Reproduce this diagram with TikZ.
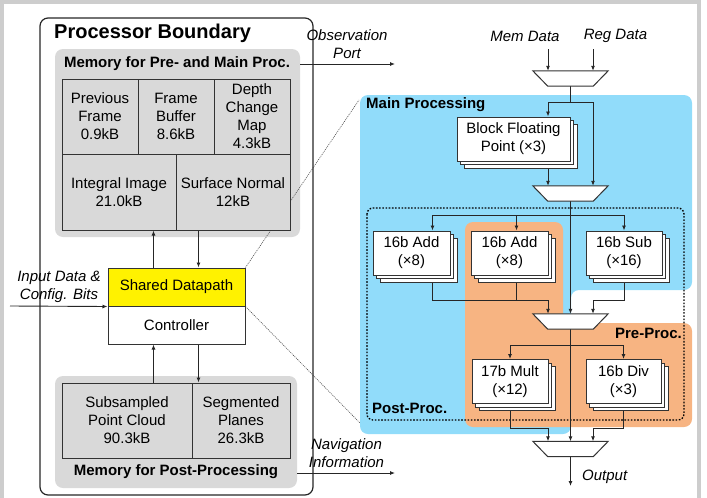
\documentclass[tikz,border=0pt]{standalone}
\usepackage{fontspec}
\setmainfont{Liberation Sans}
\usetikzlibrary{arrows.meta,shadows}
\pgfdeclarelayer{bg}
\pgfdeclarelayer{wires}
\pgfsetlayers{bg,wires,main}
\definecolor{mainblue}{RGB}{145,220,250}
\definecolor{preorange}{RGB}{247,180,130}
\definecolor{memgray}{RGB}{217,217,217}
\definecolor{framegray}{RGB}{205,205,205}

\begin{document}
\begin{tikzpicture}[x=1pt,y=1pt,yscale=-1,
  txt/.style={font=\fontsize{15}{18}\selectfont, inner sep=0pt, align=center},
  ttl/.style={font=\fontsize{15}{18}\selectfont\bfseries, inner sep=0pt},
  lbl/.style={font=\fontsize{15}{18}\selectfont\itshape, inner sep=0pt, align=center},
  cell/.style={txt, draw=black!80, line width=1pt, fill=memgray},
  unit/.style={txt, draw=black!80, line width=1pt, fill=white, minimum height=44pt,
    general shadow={shadow xshift=7pt, shadow yshift=-7pt, draw=black!80, fill=white},
    general shadow={shadow xshift=3.5pt, shadow yshift=-3.5pt, draw=black!80, fill=white}},
  mux/.style={minimum width=75pt, minimum height=15pt, inner sep=0pt},
  muxline/.style={draw=black!80, line width=1pt, fill=white},
  wire/.style={line width=0.9pt, black!85},
  arr/.style={wire, -{Latex[length=5pt,width=4pt]}},
  magnify/.style={line width=0.6pt, black!70, dash pattern=on 1pt off 1pt},
  membox/.style={fill=memgray, rounded corners=8pt, inner sep=0pt}
]
\useasboundingbox (0,0) rectangle (707,498);
%frame
\draw[framegray, line width=3.5pt] (1.75,1.75) rectangle (699,520);

%Processor boundary
\node[draw=black!85, line width=1.2pt, rounded corners=8pt, minimum width=273pt, minimum height=477pt, inner sep=0pt] (proc) at (176.5,256.5) {};
\node[anchor=west, inner sep=0pt, font=\fontsize{20}{24}\selectfont\bfseries] (proct) at (54,33) {Processor Boundary};

%Memory for pre- and main processing
\begin{pgfonlayer}{bg}
\node[membox, minimum width=245pt, minimum height=188pt] (memA) at (177.5,143) {};
\node[membox, minimum width=242pt, minimum height=112pt] (memB) at (176,432) {};
\end{pgfonlayer}
\node[ttl] (memAt) at (177,64) {Memory for Pre- and Main Proc.};
\node[cell, minimum width=76pt, minimum height=75pt] (prev) at (100,116.5) {Previous\\Frame\\0.9kB};
\node[cell, minimum width=76pt, minimum height=75pt] (fbuf) at (176,116.5) {Frame\\Buffer\\8.6kB};
\node[cell, minimum width=76pt, minimum height=75pt] (dcm) at (252,116.5) {Depth\\Change\\Map\\4.3kB};
\node[cell, minimum width=114pt, minimum height=76pt] (integ) at (119,192) {Integral Image\\21.0kB};
\node[cell, minimum width=114pt, minimum height=76pt] (surf) at (233,192) {Surface Normal\\12kB};

%Datapath and controller
\node[txt, draw=black!80, line width=1pt, fill=yellow, minimum width=137pt, minimum height=38pt] (dp) at (176.5,287) {Shared Datapath};
\node[txt, draw=black!80, line width=1pt, fill=white, minimum width=137pt, minimum height=38pt] (ctrl) at (176.5,325) {Controller};

%Memory for post-processing
\node[cell, minimum width=130pt, minimum height=75pt] (subs) at (127,420.5) {Subsampled\\Point Cloud\\90.3kB};
\node[cell, minimum width=98pt, minimum height=75pt] (segp) at (241,420.5) {Segmented\\Planes\\26.3kB};
\node[ttl] (memBt) at (176,472) {Memory for Post-Processing};

%Ports
\node[lbl] (inpt) at (59,287) {Input Data \&\\Config. Bits};
\node[lbl] (obst) at (347,44) {Observation\\Port};
\node[lbl] (navt) at (346.5,453.5) {Navigation\\Information};
\coordinate (inp) at (10,306);
\coordinate (obs) at (395,64);
\coordinate (nav) at (395,473);

%Regions
\begin{pgfonlayer}{bg}
\fill[mainblue, rounded corners=8pt] (360,95) -- (692,95) -- (692,290) -- (571,290) -- (571,434) -- (360,434) -- cycle;
\fill[preorange, rounded corners=8pt] (465,222) -- (563,222) -- (563,323) -- (692,323) -- (692,427) -- (465,427) -- cycle;
\end{pgfonlayer}
\coordinate (mpA) at (359,100);
\coordinate (mpB) at (360,423);
\node[ttl, anchor=west] (maint) at (366,105) {Main Processing};
\node[ttl, anchor=east] (pret) at (682,333) {Pre-Proc.};
\node[ttl, anchor=west] (postt) at (372,408) {Post-Proc.};

%Muxes and units
\node[lbl] (memd) at (525,36) {Mem Data};
\node[lbl] (regd) at (615.5,36) {Reg Data};
\coordinate (memin) at (548,49);
\coordinate (regin) at (593,49);
\node[mux] (mux1) at (570.5,78.5) {};
\node[unit, minimum width=113pt] (bfp) at (513.5,139) {Block Floating\\Point (×3)};
\node[mux] (mux2) at (570.5,193.5) {};
\node[unit, minimum width=77pt] (addA) at (411.5,253) {16b Add\\(×8)};
\node[unit, minimum width=77pt] (addB) at (509.5,253) {16b Add\\(×8)};
\node[unit, minimum width=76pt] (sub) at (624,253) {16b Sub\\(×16)};
\node[mux] (mux3) at (570.5,321.5) {};
\node[unit, minimum width=76pt] (mult) at (510,381.5) {17b Mult\\(×12)};
\node[unit, minimum width=75pt] (div) at (623.5,381.5) {16b Div\\(×3)};
\node[mux] (mux4) at (570.5,449) {};
\foreach \m in {mux1,mux2,mux3,mux4}
  \draw[muxline] (\m.north west) -- (\m.north east) -- ([xshift=-15pt]\m.south east) -- ([xshift=15pt]\m.south west) -- cycle;
\node[lbl, anchor=west] (outt) at (582,477) {Output};
\coordinate (split1) at (570.5,102);
\coordinate (split2) at (570.5,215);
\coordinate (join1) at (548,300);
\coordinate (join2) at (593,300);
\coordinate (split3) at (570.5,345);
\coordinate (join3) at (548,428);
\coordinate (join4) at (593,428);
\coordinate (outend) at (570.5,486);

\begin{pgfonlayer}{wires}
%Post-Proc. boundary
\draw[line width=1.3pt, dash pattern=on 1.6pt off 1.6pt, rounded corners=6pt] (367,208) rectangle (684,420);
%Zoom lines
\draw[magnify] (dp.north east) -- (mpA);
\draw[magnify] (dp.south east) -- (mpB);
%Left side
\draw[arr] ([xshift=46pt]dp.north west) -- ([xshift=92pt]integ.south west);
\draw[arr] ([xshift=23pt]surf.south west) -- ([xshift=91pt]dp.north west);
\draw[arr] ([xshift=92pt]subs.north west) -- ([xshift=46pt]ctrl.south west);
\draw[arr] ([xshift=91pt]ctrl.south west) -- ([xshift=7pt]segp.north west);
\draw[arr] (inp) -- (dp.south west);
\draw[arr] (obs -| memA.east) -- (obs);
\draw[arr] (nav -| memB.east) -- (nav);
%Right side
\draw[arr] (memin) -- ([xshift=-22.5pt]mux1.north);
\draw[arr] (regin) -- ([xshift=22.5pt]mux1.north);
\draw[wire] (mux1.south) -- (split1);
\draw[arr] (split1) -| ([xshift=-22.5pt]bfp.north east);
\draw[arr] (split1) -| ([xshift=22.5pt]mux2.north);
\draw[arr] ([xshift=-22.5pt]bfp.south east) -- ([xshift=-22.5pt]mux2.north);
\draw[arr] (mux2.south) -- (mux3.north);
\draw[arr] (split2) -| ([xshift=60pt]addA.north west);
\draw[arr] (split2) -| ([xshift=46pt]addB.north west);
\draw[arr] (split2) -| (sub.north);
\draw[arr] ([xshift=60pt]addA.south west) |- (join1) -- ([xshift=-22.5pt]mux3.north);
\draw[wire] ([xshift=46pt]addB.south west) |- (join1);
\draw[arr] (sub.south) |- (join2) -- ([xshift=22.5pt]mux3.north);
\draw[arr] (mux3.south) -- (mux4.north);
\draw[arr] (split3) -| (mult.north);
\draw[arr] (split3) -| (div.north);
\draw[arr] (mult.south) |- (join3) -- ([xshift=-22.5pt]mux4.north);
\draw[arr] (div.south) |- (join4) -- ([xshift=22.5pt]mux4.north);
\draw[arr] (mux4.south) -- (outend);
\end{pgfonlayer}

\end{tikzpicture}
\end{document}
